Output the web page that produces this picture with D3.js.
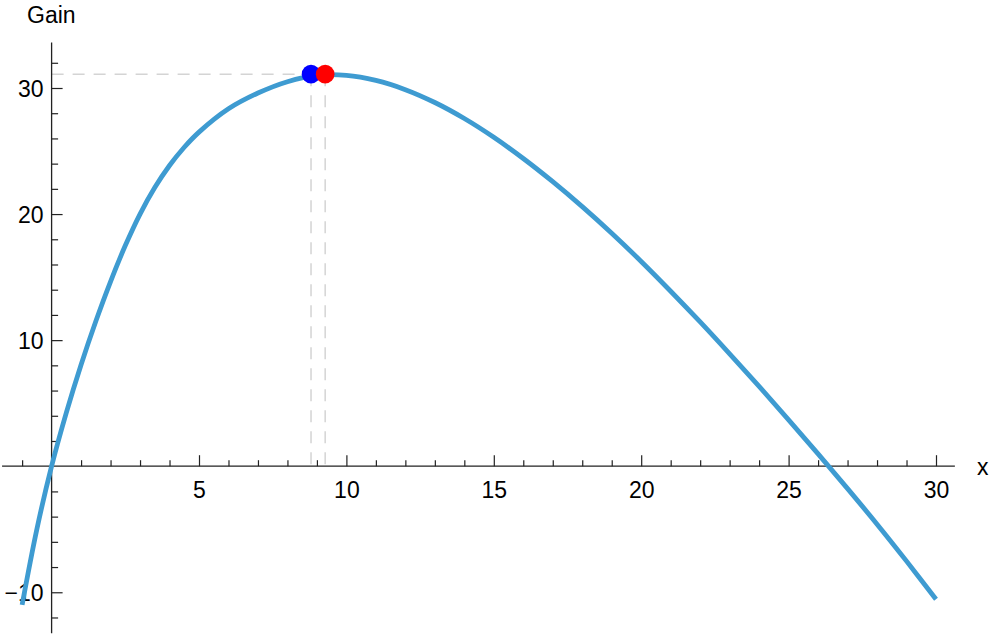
<!DOCTYPE html>
<html>
<head>
<meta charset="utf-8">
<script src="https://cdn.jsdelivr.net/npm/d3@7"></script>
<style>
  html, body { margin: 0; padding: 0; background: #fff; }
  svg { display: block; }
</style>
</head>
<body>
<svg id="chart" width="996" height="640"></svg>
<script>
// Curve samples (x, Gain)
const curveX = [-1, -0.5, 0, 0.5, 1, 1.5, 2, 2.5, 3, 3.5, 4, 4.5, 5, 6, 7, 8, 9, 10, 11, 12, 13, 14, 15, 16, 17, 18, 19, 20, 21, 22, 23, 24, 25, 26, 27, 28, 29, 30];
const curveY = [-11.0, -5.0, 0, 4.25, 8.05, 11.5, 14.65, 17.5, 20.0, 22.1, 23.85, 25.3, 26.5, 28.35, 29.6, 30.5, 31.0, 31.0, 30.6, 29.87, 28.85, 27.58, 26.09, 24.41, 22.57, 20.59, 18.48, 16.24, 13.88, 11.44, 8.91, 6.33, 3.68, 0.98, -1.78, -4.6, -7.53, -10.55];

// Highlighted points
const pointX = [8.8, 9.28];
const pointY = [31.1, 31.1];
const pointColors = ["#0000ff", "#ff0000"];

// Ticks
const xMajorTicks = [5, 10, 15, 20, 25, 30];
const xMinorTicks = d3.range(-1, 31).filter(v => v % 5 !== 0);
const yMajorTicks = [-10, 10, 20, 30];
const yMinorTicks = d3.range(-12, 33, 2).filter(v => v % 10 !== 0);
const xAxisExtent = [-1.68, 30.64];
const yAxisExtent = [-13.25, 33.6];

const xLabel = "x";
const yLabel = "Gain";

const svg = d3.select("#chart");
const x = d3.scaleLinear().domain([0, 30]).range([51.6, 936]);
const y = d3.scaleLinear().domain([0, 30]).range([466.2, 88]);

const font = "'Liberation Sans', Arial, Helvetica, sans-serif";
const axisColor = "#222";

// Dashed guide lines
const guide = svg.append("g")
  .attr("stroke", "#d4d4d4")
  .attr("stroke-width", 1.5)
  .attr("stroke-dasharray", "12,9")
  .attr("fill", "none");
guide.append("line")
  .attr("x1", x(0)).attr("x2", x(pointX[0]))
  .attr("y1", y(pointY[0])).attr("y2", y(pointY[0]));
pointX.forEach((px, i) => {
  guide.append("line")
    .attr("x1", x(px)).attr("x2", x(px))
    .attr("y1", y(pointY[i])).attr("y2", y(0));
});

// X axis
const xAxisG = svg.append("g").attr("transform", `translate(0,${y(0)})`);
xAxisG.append("line")
  .attr("x1", x(xAxisExtent[0])).attr("x2", x(xAxisExtent[1]))
  .attr("stroke", axisColor).attr("stroke-width", 1.3);
const xMinor = xAxisG.append("g").call(
  d3.axisBottom(x).tickValues(xMinorTicks).tickSize(-6).tickFormat(""));
const xMajor = xAxisG.append("g").call(
  d3.axisBottom(x).tickValues(xMajorTicks).tickSize(-11).tickPadding(15).tickFormat(d3.format("d")));

// Y axis
const yAxisG = svg.append("g").attr("transform", `translate(${x(0)},0)`);
yAxisG.append("line")
  .attr("y1", y(yAxisExtent[0])).attr("y2", y(yAxisExtent[1]))
  .attr("stroke", axisColor).attr("stroke-width", 1.3);
const yMinor = yAxisG.append("g").call(
  d3.axisLeft(y).tickValues(yMinorTicks).tickSize(-6.5).tickFormat(""));
const yMajor = yAxisG.append("g").call(
  d3.axisLeft(y).tickValues(yMajorTicks).tickSize(-11).tickPadding(8)
    .tickFormat(d => d < 0 ? "\u2212" + Math.abs(d) : String(d)));

[xMinor, xMajor, yMinor, yMajor].forEach(g => {
  g.select(".domain").remove();
  g.selectAll(".tick line").attr("stroke", axisColor).attr("stroke-width", 1.2);
  g.selectAll(".tick text")
    .attr("fill", "#000")
    .attr("font-family", font)
    .attr("font-size", 23);
});
xMajor.selectAll(".tick text").attr("dy", "0.72em");
yMajor.selectAll(".tick text").attr("x", -8).attr("dy", "0.35em");

// Axis labels
svg.append("text")
  .attr("x", 977).attr("y", y(0) + 8.5)
  .attr("font-family", font).attr("font-size", 23).attr("fill", "#000")
  .text(xLabel);
svg.append("text")
  .attr("x", 27).attr("y", 23)
  .attr("font-family", font).attr("font-size", 23).attr("fill", "#000")
  .text(yLabel);

// Curve
const line = d3.line()
  .x((d, i) => x(curveX[i]))
  .y((d, i) => y(curveY[i]))
  .curve(d3.curveCatmullRom.alpha(0.5));
svg.append("path")
  .datum(curveY)
  .attr("d", line)
  .attr("fill", "none")
  .attr("stroke", "#3e9bd1")
  .attr("stroke-width", 4.8)
  .attr("stroke-linejoin", "round");

// Points
svg.append("g").selectAll("circle")
  .data(pointX)
  .join("circle")
  .attr("cx", d => x(d))
  .attr("cy", (d, i) => y(pointY[i]))
  .attr("r", 9.3)
  .attr("fill", (d, i) => pointColors[i]);
</script>
</body>
</html>
